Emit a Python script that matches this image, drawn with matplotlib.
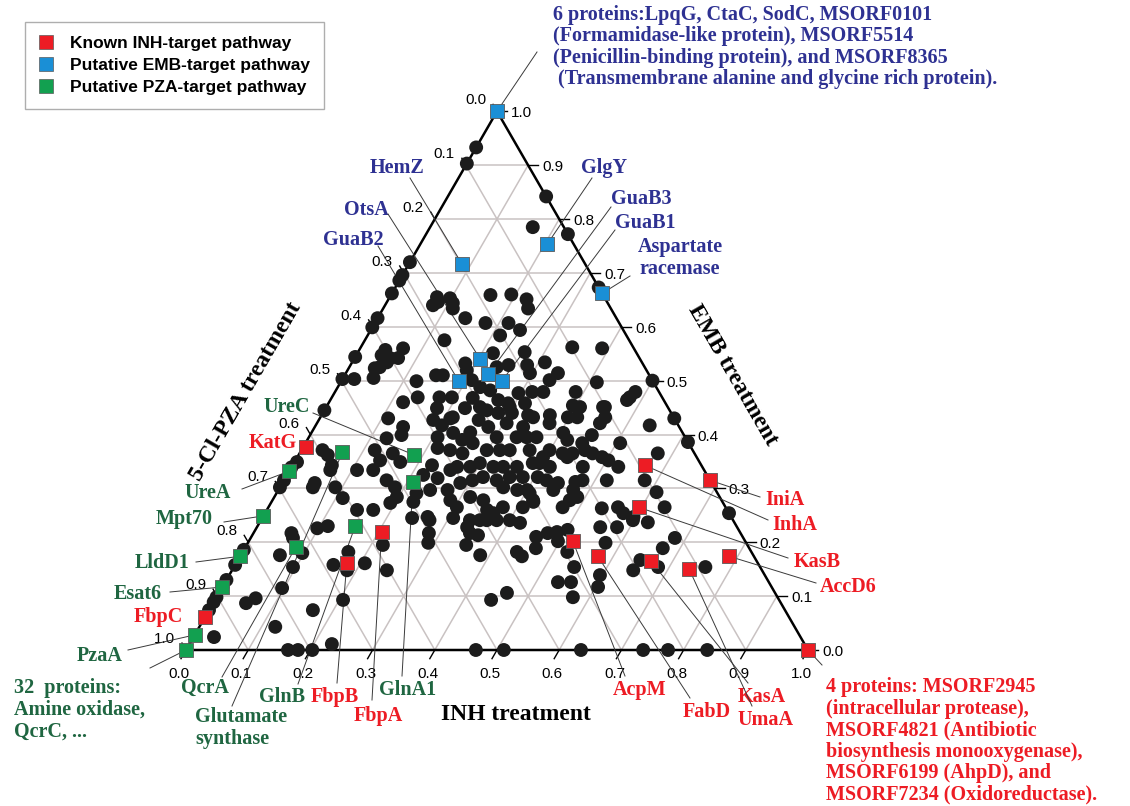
import numpy as np
import matplotlib.pyplot as plt
from matplotlib.lines import Line2D

# fractions: INH (bottom axis) and EMB (right axis); PZA = 1 - INH - EMB
black_inh = [0.000, 0.000, 0.158, 0.165, 0.228, 0.000, 0.000, 0.000, 0.000, 0.076, 0.098, 0.160, 0.193, 0.222, 0.327,
             0.000, 0.000, 0.077, 0.082, 0.107, 0.112, 0.128, 0.069, 0.042, 0.041, 0.057, 0.070, 0.056, 0.042, 0.049,
             0.000, 0.000, 0.019, 0.049, 0.121, 0.147, 0.000, 0.119, 0.138, 0.173, 0.179, 0.193, 0.213, 0.110,
             0.233, 0.141, 0.178, 0.215, 0.240, 0.213, 0.340, 0.268, 0.218, 0.183, 0.237, 0.254, 0.284, 0.310,
             0.296, 0.334, 0.341, 0.158, 0.192, 0.209, 0.229, 0.248, 0.296, 0.317, 0.335, 0.387, 0.412, 0.227,
             0.270, 0.289, 0.316, 0.395, 0.408, 0.224, 0.261, 0.282, 0.304, 0.332, 0.367, 0.398, 0.389, 0.500,
             0.479, 0.483, 0.448, 0.570, 0.004, 0.000, 0.000, 0.000, 0.034, 0.047, 0.063, 0.065, 0.052, 0.053,
             0.089, 0.108, 0.134, 0.118, 0.111, 0.145, 0.171, 0.098, 0.142, 0.147, 0.126, 0.136, 0.150, 0.170,
             0.224, 0.219, 0.245, 0.165, 0.185, 0.197, 0.192, 0.228, 0.225, 0.244, 0.265, 0.241, 0.207, 0.217,
             0.184, 0.203, 0.210, 0.228, 0.249, 0.239, 0.262, 0.269, 0.255, 0.257, 0.247, 0.279, 0.302, 0.305,
             0.295, 0.342, 0.335, 0.350, 0.334, 0.335, 0.319, 0.298, 0.299, 0.287, 0.266, 0.258, 0.324, 0.340,
             0.362, 0.367, 0.384, 0.381, 0.360, 0.342, 0.317, 0.303, 0.286, 0.272, 0.286, 0.303, 0.315, 0.339,
             0.354, 0.352, 0.367, 0.359, 0.384, 0.400, 0.419, 0.409, 0.377, 0.400, 0.419, 0.336, 0.307, 0.413,
             0.445, 0.458, 0.455, 0.477, 0.374, 0.366, 0.405, 0.418, 0.453, 0.445, 0.456, 0.471, 0.490, 0.503,
             0.525, 0.439, 0.434, 0.423, 0.399, 0.395, 0.395, 0.415, 0.405, 0.468, 0.480, 0.470, 0.443, 0.422,
             0.442, 0.474, 0.487, 0.478, 0.473, 0.407, 0.421, 0.519, 0.537, 0.506, 0.576, 0.614, 0.580, 0.610,
             0.637, 0.596, 0.562, 0.576, 0.537, 0.746, 0.552, 0.579, 0.000, 0.000, 0.000, 0.000, 0.000, 0.000,
             0.000, 0.061, 0.068, 0.113, 0.097, 0.095, 0.063, 0.097, 0.053, 0.064, 0.167, 0.122, 0.033, 0.206,
             0.158, 0.170, 0.185, 0.219, 0.207, 0.249, 0.229, 0.164, 0.180, 0.203, 0.271, 0.282, 0.290, 0.338,
             0.348, 0.363, 0.363, 0.379, 0.353, 0.385, 0.458, 0.468, 0.441, 0.453, 0.473, 0.487, 0.497, 0.502,
             0.522, 0.547, 0.535, 0.556, 0.573, 0.444, 0.463, 0.466, 0.511, 0.635, 0.598, 0.624, 0.575, 0.682,
             0.672, 0.596, 0.604, 0.647, 0.645, 0.682, 0.758, 0.735, 0.775, 0.838]
black_emb = [0.933, 0.903, 0.842, 0.785, 0.772, 0.720, 0.696, 0.686, 0.662, 0.655, 0.653, 0.659, 0.660, 0.651, 0.673,
             0.616, 0.599, 0.640, 0.646, 0.644, 0.634, 0.575, 0.560, 0.557, 0.547, 0.542, 0.542, 0.534, 0.523, 0.525,
             0.544, 0.503, 0.503, 0.505, 0.499, 0.510, 0.445, 0.460, 0.469, 0.469, 0.449, 0.469, 0.432, 0.430,
             0.634, 0.616, 0.607, 0.607, 0.594, 0.584, 0.562, 0.553, 0.551, 0.532, 0.525, 0.529, 0.529, 0.534,
             0.514, 0.501, 0.514, 0.510, 0.519, 0.501, 0.488, 0.482, 0.477, 0.479, 0.479, 0.479, 0.497, 0.468,
             0.464, 0.458, 0.458, 0.454, 0.451, 0.449, 0.445, 0.440, 0.440, 0.436, 0.436, 0.432, 0.560, 0.500,
             0.469, 0.479, 0.451, 0.430, 0.349, 0.339, 0.315, 0.302, 0.371, 0.362, 0.343, 0.334, 0.310, 0.302,
             0.302, 0.334, 0.334, 0.371, 0.282, 0.260, 0.260, 0.226, 0.414, 0.399, 0.393, 0.352, 0.365, 0.349,
             0.343, 0.325, 0.319, 0.315, 0.302, 0.284, 0.273, 0.275, 0.291, 0.297, 0.247, 0.245, 0.395, 0.375,
             0.427, 0.417, 0.430, 0.403, 0.390, 0.371, 0.365, 0.384, 0.404, 0.427, 0.451, 0.414, 0.395, 0.421,
             0.451, 0.432, 0.414, 0.395, 0.395, 0.371, 0.371, 0.371, 0.347, 0.340, 0.340, 0.334, 0.340, 0.340,
             0.340, 0.371, 0.347, 0.321, 0.321, 0.315, 0.321, 0.315, 0.310, 0.297, 0.278, 0.265, 0.284, 0.278,
             0.260, 0.241, 0.254, 0.302, 0.297, 0.297, 0.278, 0.265, 0.265, 0.241, 0.236, 0.241, 0.245, 0.432,
             0.451, 0.432, 0.421, 0.464, 0.421, 0.395, 0.403, 0.390, 0.399, 0.384, 0.371, 0.365, 0.358, 0.352,
             0.340, 0.365, 0.358, 0.365, 0.371, 0.358, 0.347, 0.340, 0.321, 0.340, 0.315, 0.312, 0.310, 0.315,
             0.297, 0.297, 0.284, 0.278, 0.265, 0.291, 0.275, 0.315, 0.417, 0.384, 0.365, 0.386, 0.315, 0.293,
             0.265, 0.247, 0.265, 0.254, 0.263, 0.254, 0.228, 0.228, 0.186, 0.158, 0.130, 0.117, 0.098, 0.089,
             0.074, 0.217, 0.208, 0.230, 0.180, 0.154, 0.176, 0.115, 0.087, 0.096, 0.074, 0.043, 0.024, 0.093,
             0.158, 0.182, 0.148, 0.195, 0.161, 0.148, 0.011, 0.000, 0.000, 0.000, 0.241, 0.217, 0.199, 0.228,
             0.217, 0.213, 0.241, 0.241, 0.195, 0.176, 0.210, 0.189, 0.182, 0.174, 0.217, 0.219, 0.202, 0.223,
             0.182, 0.154, 0.126, 0.126, 0.098, 0.093, 0.106, 0.000, 0.000, 0.000, 0.241, 0.237, 0.199, 0.208,
             0.189, 0.139, 0.117, 0.167, 0.148, 0.154, 0.154, 0.000, 0.000, 0.000]

red_names = ["KatG", "InhA", "IniA", "KasB", "AcpM", "FabD", "KasA", "UmaA", "AccD6", "4p", "FbpC", "FbpB", "FbpA"]
red_inh = [0.005, 0.566, 0.685, 0.595, 0.521, 0.575, 0.665, 0.734, 0.786, 1.000, 0.000, 0.178, 0.205]
red_emb = [0.377, 0.343, 0.315, 0.265, 0.202, 0.174, 0.165, 0.150, 0.174, 0.000, 0.061, 0.161, 0.219]

blue_names = ["6p", "HemZ", "GlgY", "Asp", "OtsA", "GuaB3", "GuaB2", "GuaB1"]
blue_inh = [0.000, 0.086, 0.204, 0.338, 0.203, 0.230, 0.189, 0.258]
blue_emb = [1.000, 0.716, 0.753, 0.662, 0.540, 0.512, 0.499, 0.499]

green_names = ["GltS", "UreA", "Mpt70", "LldD1", "Esat6", "PzaA", "32p", "UreC", "GlnA1", "QcrA", "GlnB"]
green_inh = [0.068, 0.000, 0.000, 0.000, 0.000, 0.000, 0.000, 0.186, 0.209, 0.081, 0.157]
green_emb = [0.367, 0.332, 0.249, 0.174, 0.117, 0.028, 0.000, 0.362, 0.312, 0.191, 0.230]

ticks = [0.0, 0.1, 0.2, 0.3, 0.4, 0.5, 0.6, 0.7, 0.8, 0.9, 1.0]

RED = "#ed1c24"
BLUE = "#1a8fd6"
GREEN = "#12a050"
NAVY = "#2e3192"
DKGREEN = "#1f6641"
GRID = "#c9c2c2"

H = np.sqrt(3) / 2
SC = 622.0  # pixels per unit side


def tern(inh, emb):
    inh = np.asarray(inh, float)
    emb = np.asarray(emb, float)
    return inh + emb / 2, emb * H


def px(x, y):
    # layout helper: picture pixel -> axes data units
    return (x - 186) / SC, (650 - y) / SC


fig = plt.figure(figsize=(11.3, 8.06), dpi=100)
ax = fig.add_axes([0, 0, 1, 1])
ax.set_xlim(-186 / SC, (1130 - 186) / SC)
ax.set_ylim(-(806 - 650) / SC, 650 / SC)
ax.axis("off")

# grid
for v in ticks[1:-1]:
    for a, b in [((v, 0), (v, 1 - v)), ((0, v), (1 - v, v)), ((1 - v, 0), (0, 1 - v))]:
        xs, ys = tern([a[0], b[0]], [a[1], b[1]])
        ax.plot(xs, ys, color=GRID, lw=1.1, zorder=1)

# triangle
xs, ys = tern([0, 1, 0, 0], [0, 0, 1, 0])
ax.plot(xs, ys, color="black", lw=1.8, zorder=2, solid_joinstyle="miter")

tl = 10 / SC
sans = dict(family="Liberation Sans", fontsize=11)
for v in ticks:
    # bottom (INH)
    x0, y0 = tern(v, 0)
    ax.plot([x0, x0 - 0.5 * tl], [y0, y0 - H * tl], color="black", lw=1.0, zorder=2)
    ax.text(x0 - 7 / SC, -24 / SC, f"{v:.1f}", ha="center", va="center", **sans)
    # right (EMB)
    x0, y0 = tern(1 - v, v)
    ax.plot([x0, x0 + tl], [y0, y0], color="black", lw=1.0, zorder=2)
    ax.text(x0 + 14 / SC, y0 - 2 / SC, f"{v:.1f}", ha="left", va="center", **sans)
    # left (PZA)
    x0, y0 = tern(0, 1 - v)
    ax.plot([x0, x0 - 0.5 * tl * 0.8], [y0, y0 + H * tl * 0.8], color="black", lw=1.0, zorder=2)
    ax.text(x0 - 11 / SC, y0 + 11 / SC, f"{v:.1f}", ha="right", va="center", **sans)

serif = dict(family="Liberation Serif", fontweight="bold")
ax.text(*px(516, 715), "INH treatment", ha="center", va="center", fontsize=17, **serif)
ax.text(*px(733, 375), "EMB treatment", ha="center", va="center", fontsize=17, rotation=-60, **serif)
ax.text(*px(246, 392), "5-Cl-PZA treatment", ha="center", va="center", fontsize=17, rotation=60, **serif)

# points
bx, by = tern(black_inh, black_emb)
ax.scatter(bx, by, s=100, color="#1c1c1c", edgecolors="none", zorder=4)
for inh, emb, col in [(red_inh, red_emb, RED), (blue_inh, blue_emb, BLUE), (green_inh, green_emb, GREEN)]:
    x, y = tern(inh, emb)
    ax.scatter(x, y, s=90, marker="s", color=col, edgecolors="#5a5a5a", linewidths=0.6, zorder=5)

# labels: (name, text, colour, label anchor px, ha, line start px)
labels = [
    ("6p", "6 proteins:LpqG, CtaC, SodC, MSORF0101\n(Formamidase-like protein), MSORF5514\n"
           "(Penicillin-binding protein), and MSORF8365\n (Transmembrane alanine and glycine rich protein).",
     NAVY, (553, 47), "left", (537, 52)),
    ("HemZ", "HemZ", NAVY, (397, 168), "center", (410, 178)),
    ("OtsA", "OtsA", NAVY, (366, 210), "center", (388, 214)),
    ("GuaB2", "GuaB2", NAVY, (353, 240), "center", (378, 246)),
    ("GlgY", "GlgY", NAVY, (604, 168), "center", (592, 178)),
    ("GuaB3", "GuaB3", NAVY, (641, 199), "center", (611, 207)),
    ("GuaB1", "GuaB1", NAVY, (645, 223), "center", (615, 230)),
    ("Asp", "Aspartate\nracemase", NAVY, (680, 258), "center", (630, 276)),
    ("UreC", "UreC", DKGREEN, (287, 407), "center", (313, 413)),
    ("UreA", "UreA", DKGREEN, (208, 493), "center", (242, 489)),
    ("Mpt70", "Mpt70", DKGREEN, (184, 519), "center", (224, 522)),
    ("LldD1", "LldD1", DKGREEN, (162, 563), "center", (196, 562)),
    ("Esat6", "Esat6", DKGREEN, (138, 594), "center", (170, 592)),
    ("PzaA", "PzaA", DKGREEN, (100, 656), "center", (128, 650)),
    ("32p", "32  proteins:\nAmine oxidase,\nQcrC, ...", DKGREEN, (14, 710), "left", (150, 668)),
    ("QcrA", "QcrA", DKGREEN, (205, 688), "center", (222, 677)),
    ("GltS", "Glutamate\nsynthase", DKGREEN, (195, 728), "left", (232, 706)),
    ("GlnB", "GlnB", DKGREEN, (282, 697), "center", (298, 684)),
    ("GlnA1", "GlnA1", DKGREEN, (408, 690), "center", (402, 676)),
    ("KatG", "KatG", RED, (273, 443), "center", None),
    ("FbpC", "FbpC", RED, (158, 617), "center", None),
    ("FbpB", "FbpB", RED, (335, 697), "center", (337, 683)),
    ("FbpA", "FbpA", RED, (378, 716), "center", (372, 700)),
    ("AcpM", "AcpM", RED, (640, 690), "center", (625, 676)),
    ("FabD", "FabD", RED, (707, 712), "center", (690, 698)),
    ("KasA", "KasA", RED, (762, 697), "center", (748, 683)),
    ("UmaA", "UmaA", RED, (765, 720), "center", (752, 706)),
    ("IniA", "IniA", RED, (785, 500), "center", (760, 497)),
    ("InhA", "InhA", RED, (795, 525), "center", (768, 520)),
    ("KasB", "KasB", RED, (817, 562), "center", (788, 558)),
    ("AccD6", "AccD6", RED, (848, 587), "center", (816, 583)),
    ("4p", "4 proteins: MSORF2945\n(intracellular protease),\nMSORF4821 (Antibiotic\n"
           "biosynthesis monooxygenase),\nMSORF6199 (AhpD), and\nMSORF7234 (Oxidoreductase).",
     RED, (826, 741), "left", (822, 665)),
]

points = {}
for names, inh, emb in [(red_names, red_inh, red_emb), (blue_names, blue_inh, blue_emb),
                        (green_names, green_inh, green_emb)]:
    for n, a, b in zip(names, inh, emb):
        points[n] = tern(a, b)

for name, text, col, pos, ha, start in labels:
    ax.text(*px(*pos), text, color=col, ha=ha, va="center", fontsize=14.5,
            linespacing=1.1, multialignment="left" if ha == "left" else "center", **serif)
    if start is not None:
        sx, sy = px(*start)
        ex, ey = points[name]
        ax.plot([sx, ex], [sy, ey], color="#3a3a3a", lw=0.7, zorder=3)

handles = [Line2D([], [], marker="s", ls="none", markersize=9.5, markerfacecolor=c,
                  markeredgecolor="#5a5a5a", markeredgewidth=0.5) for c in (RED, BLUE, GREEN)]
leg = ax.legend(handles, ["Known INH-target pathway", "Putative EMB-target pathway", "Putative PZA-target pathway"],
                loc="upper left", bbox_to_anchor=(25 / 1130, 1 - 22 / 806), bbox_transform=fig.transFigure,
                borderaxespad=0, frameon=True, fancybox=False, edgecolor="#9a9a9a", handletextpad=1.0,
                borderpad=0.8, labelspacing=0.4, handlelength=0.8,
                prop=dict(family="Liberation Sans", weight="bold", size=12.5))
leg.get_frame().set_linewidth(1.0)

fig.savefig("out.png", dpi=100)
